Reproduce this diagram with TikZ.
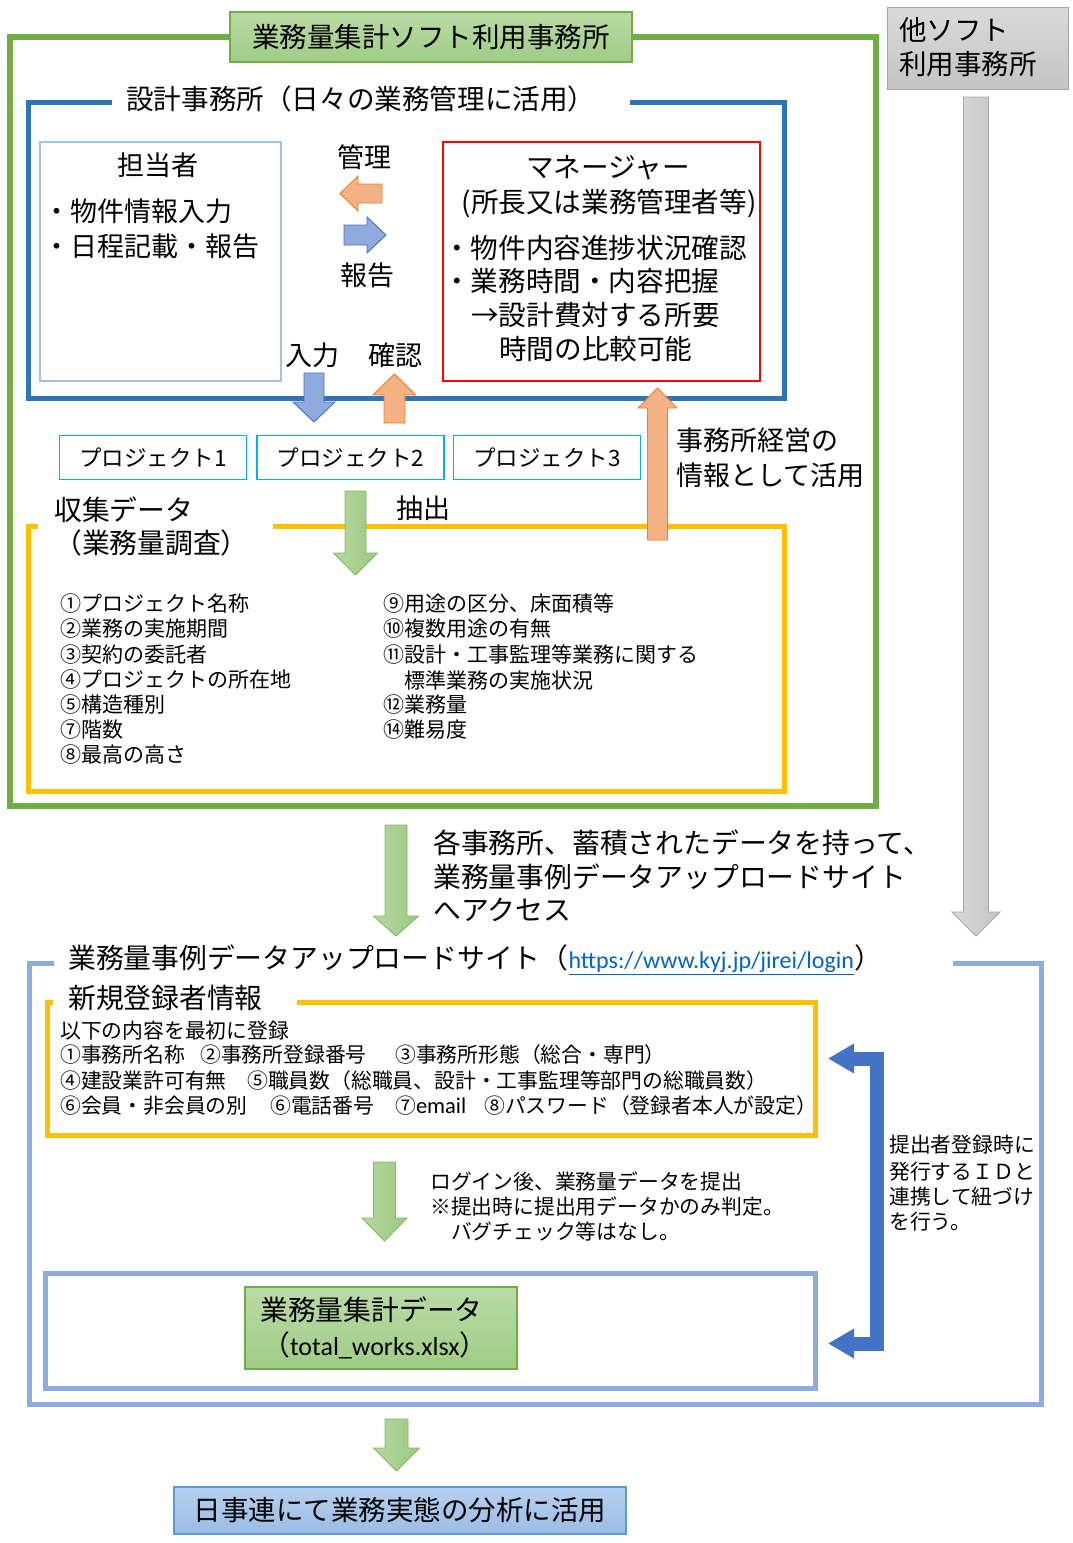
\documentclass[tikz,border=0pt]{standalone}
\usepackage{fontspec}
\setmainfont{Noto Sans CJK JP}
\newfontfamily\latfont{Carlito}
\usetikzlibrary{arrows.meta}
\definecolor{cGreen}{HTML}{70AD47}
\definecolor{cGreenTop}{HTML}{BADBA6}
\definecolor{cGreenFill}{HTML}{A0CC85}
\definecolor{cGArrL}{HTML}{B6D8A0}
\definecolor{cGArrR}{HTML}{9CC87F}
\definecolor{cBlue}{HTML}{2E75B6}
\definecolor{cLightBlue}{HTML}{9DC3E6}
\definecolor{cRed}{HTML}{FF0000}
\definecolor{cCyan}{HTML}{00B0F0}
\definecolor{cYellow}{HTML}{FFC000}
\definecolor{cSite}{HTML}{8FAADC}
\definecolor{cArrBlueFill}{HTML}{8FAADC}
\definecolor{cArrBlueLine}{HTML}{4472C4}
\definecolor{cOrFill}{HTML}{F4B183}
\definecolor{cOrLine}{HTML}{ED7D31}
\definecolor{cGrayTop}{HTML}{DADADA}
\definecolor{cGrayFill}{HTML}{C4C4C4}
\definecolor{cGrayLine}{HTML}{A6A6A6}
\definecolor{cUrl}{HTML}{0563C1}
\definecolor{cBotTop}{HTML}{B6D0EE}
\definecolor{cBotFill}{HTML}{9BBCE5}
\definecolor{cBotLine}{HTML}{5B9BD5}
\newcommand\VBlockArrow[7]{\path[#1] ({#2-#3},#5) -- ({#2+#3},#5) -- ({#2+#3},#6) -- ({#2+#4},#6) -- (#2,#7) -- ({#2-#4},#6) -- ({#2-#3},#6) -- cycle;}
\newcommand\HBlockArrow[7]{\path[#1] (#5,{#2-#3}) -- (#5,{#2+#3}) -- (#6,{#2+#3}) -- (#6,{#2+#4}) -- (#7,#2) -- (#6,{#2-#4}) -- (#6,{#2-#3}) -- cycle;}
\begin{document}
\begin{tikzpicture}[x=1pt,y=-1pt,
  lbl/.style={inner sep=0pt, text=black},
  lw/.style={lbl, anchor=west},
  fA/.style={font=\fontsize{27.5}{33}\selectfont},
  fB/.style={font=\fontsize{27.8}{33}\selectfont},
  fC/.style={font=\fontsize{27}{32}\selectfont},
  fM/.style={font=\fontsize{27.6}{32}\selectfont},
  fD/.style={font=\fontsize{21}{25}\selectfont},
  fE/.style={font=\fontsize{20.8}{25}\selectfont},
  fP/.style={font=\fontsize{22.5}{26}\selectfont},
  frame/.style={line join=miter},
  garrow/.style={left color=cGArrL, right color=cGArrR, draw=cGreen!85, line width=0.9pt},
  oarrow/.style={fill=cOrFill, draw=cOrLine, line width=0.9pt},
  barrow/.style={fill=cArrBlueFill, draw=cArrBlueLine, line width=0.9pt},
  grarrow/.style={left color=cGrayTop, right color=cGrayFill, draw=cGrayLine, line width=0.9pt},
  proj/.style={draw=cCyan, line width=1.3pt, minimum width=187pt, minimum height=44pt, inner sep=0pt, fP},
  greenbox/.style={draw=cGreen, line width=1.2pt, top color=cGreenTop, bottom color=cGreenFill, inner sep=0pt}
]
\useasboundingbox (0,0) rectangle (1073,1543);
\fill[white] (0,0) rectangle (1073,1543);

% ---------- outer green frame ----------
\draw[frame, cGreen, line width=6pt] (10,37) rectangle (876,806);
\node[greenbox, minimum width=402pt, minimum height=50pt, fA] (ttl) at (431,37) {業務量集計ソフト利用事務所};

% ---------- other software ----------
\node[draw=cGrayLine, line width=1pt, top color=cGrayTop, bottom color=cGrayFill, minimum width=181pt, minimum height=82pt, inner sep=0pt] (other) at (977.5,48) {};
\node[lw, fA] (other1) at (899,30) {他ソフト};
\node[lw, fA] (other2) at (899,64) {利用事務所};
\VBlockArrow{grarrow}{976}{12.5}{24}{97}{912}{936}

% ---------- design office frame ----------
\draw[frame, cBlue, line width=5pt] (630,102) -- (784,102) -- (784,398) -- (28,398) -- (28,102) -- (112,102);
\node[lw, fM] (dtitle) at (126,99) {設計事務所（日々の業務管理に活用）};

% staff box
\node[draw=cLightBlue, line width=2pt, minimum width=241pt, minimum height=239pt, inner sep=0pt] (tanto) at (160.5,261.5) {};
\node[lbl, fC] (tantoT) at (158,165) {担当者};
\node[lw, fC] (tb1) at (43,211) {・物件情報入力};
\node[lw, fC] (tb2) at (43,246) {・日程記載・報告};

% manage / report
\node[lbl, fC] (kanri) at (364,157) {管理};
\HBlockArrow{oarrow}{193.5}{9.5}{17.5}{382}{358}{340}
\HBlockArrow{barrow}{235}{10}{18}{344}{367}{386}
\node[lbl, fC] (houkoku) at (367,275) {報告};

% manager box
\node[draw=cRed, line width=2pt, minimum width=317pt, minimum height=239pt, inner sep=0pt] (mgr) at (601.5,261.5) {};
\node[lbl, fM] (m1) at (608,168) {マネージャー};
\node[lbl, fM] (m2) at (609,204) {(所長又は業務管理者等)};
\node[lw, fM] (m3) at (443,248) {・物件内容進捗状況確認};
\node[lw, fM] (m4) at (443,281) {・業務時間・内容把握};
\node[lw, fM] (m5) at (471,315) {→設計費対する所要};
\node[lw, fM] (m6) at (499,349) {時間の比較可能};

% input / confirm
\node[lbl, fC] (nyu) at (312,355) {入力};
\node[lbl, fC] (kaku) at (395,355) {確認};
\VBlockArrow{barrow}{314}{10}{21}{373}{402}{422}
\VBlockArrow{oarrow}{394.5}{10.5}{21.5}{423}{395}{374}

% projects
\node[proj] (p1) at (153,457.5) {プロジェクト1};
\node[proj] (p2) at (350.5,457.5) {プロジェクト2};
\node[proj] (p3) at (547,457.5) {プロジェクト3};

% ---------- collected data frame ----------
\draw[frame, cYellow, line width=5pt] (273,526) -- (784,526) -- (784,791) -- (28,791) -- (28,526) -- (38,526);
\node[lw, fB] (shu1) at (54,510) {収集データ};
\node[lw, fB] (shu2) at (54,543) {（業務量調査）};

% big orange arrow
\VBlockArrow{oarrow}{657.5}{10}{19.5}{540}{408}{388}
\node[lw, fC] (keiei1) at (676,440) {事務所経営の};
\node[lw, fC] (keiei2) at (676,475) {情報として活用};

% extract arrow
\VBlockArrow{garrow}{355.5}{10.5}{22}{491}{553}{575}
\node[lbl, fC] (chu) at (423,508) {抽出};

% data list
\node[lw, fD] (l1) at (60,604) {①プロジェクト名称};
\node[lw, fD] (l2) at (60,629) {②業務の実施期間};
\node[lw, fD] (l3) at (60,655) {③契約の委託者};
\node[lw, fD] (l4) at (60,680) {④プロジェクトの所在地};
\node[lw, fD] (l5) at (60,705) {⑤構造種別};
\node[lw, fD] (l6) at (60,730) {⑦階数};
\node[lw, fD] (l7) at (60,755) {⑧最高の高さ};
\node[lw, fD] (r1) at (383,604) {⑨用途の区分、床面積等};
\node[lw, fD] (r2) at (383,629) {⑩複数用途の有無};
\node[lw, fD] (r3) at (383,655) {⑪設計・工事監理等業務に関する};
\node[lw, fD] (r4) at (404,680) {標準業務の実施状況};
\node[lw, fD] (r5) at (383,705) {⑫業務量};
\node[lw, fD] (r6) at (383,730) {⑭難易度};

% ---------- access ----------
\VBlockArrow{garrow}{396}{11}{22.5}{825}{916}{936}
\node[lw, fB] (acc1) at (433,843) {各事務所、蓄積されたデータを持って、};
\node[lw, fB] (acc2) at (433,877) {業務量事例データアップロードサイト};
\node[lw, fB] (acc3) at (433,910) {へアクセス};

% ---------- upload site frame ----------
\draw[frame, cSite, line width=5pt] (953,963) -- (1041,963) -- (1041,1404) -- (29,1404) -- (29,963) -- (54,963);
\node[lw, fB] (siteT) at (68,960) {業務量事例データアップロードサイト（{\latfont\fontsize{24}{28}\selectfont\color{cUrl}\underline{https://www.kyj.jp/jirei/login}}）};

% new registrant frame
\draw[frame, cYellow, line width=5pt] (297,1002) -- (815,1002) -- (815,1135) -- (47,1135) -- (47,1002) -- (53,1002);
\node[lw, fB] (newT) at (68,998) {新規登録者情報};
\node[lw, fE] (n0) at (60,1031) {以下の内容を最初に登録};
\node[lw, fE] (n1) at (60,1055) {①事務所名称};
\node[lw, fE] (n2) at (200,1055) {②事務所登録番号};
\node[lw, fE] (n3) at (395,1055) {③事務所形態（総合・専門）};
\node[lw, fE] (n4) at (60,1081) {④建設業許可有無};
\node[lw, fE] (n5) at (247,1081) {⑤職員数（総職員、設計・工事監理等部門の総職員数）};
\node[lw, fE] (n6) at (60,1106) {⑥会員・非会員の別};
\node[lw, fE] (n7) at (270,1106) {⑥電話番号};
\node[lw, fE] (n8) at (395,1106) {⑦{\latfont\fontsize{22.5}{26}\selectfont email}};
\node[lw, fE] (n9) at (484,1106) {⑧パスワード（登録者本人が設定）};

% login arrow
\VBlockArrow{garrow}{384.5}{11}{22.5}{1162}{1218}{1241}
\node[lw, fE] (lg1) at (430,1181) {ログイン後、業務量データを提出};
\node[lw, fE] (lg2) at (430,1207) {※提出時に提出用データかのみ判定。};
\node[lw, fE] (lg3) at (430,1232) {　バグチェック等はなし。};

% inner box with data
\node[draw=cSite, line width=5pt, minimum width=770pt, minimum height=115pt, inner sep=0pt] (inner) at (430,1330.5) {};
\node[greenbox, minimum width=272pt, minimum height=82pt] (data) at (381,1328) {};
\node[lw, fB] (dt1) at (260,1310) {業務量集計データ};
\node[lw, fB] (dt2) at (262,1345) {（{\latfont\fontsize{26}{30}\selectfont total\_works.xlsx}）};

% bracket arrow
\coordinate (bkA) at (828,1058.5);
\coordinate (bkB) at (828,1343.5);
\draw[cArrBlueLine, line width=14pt, line join=miter,
  {Triangle[length=26pt,width=28pt]}-{Triangle[length=26pt,width=28pt]}]
  (bkA) -- (876.5,1058.5) -- (876.5,1343.5) -- (bkB);
\node[lw, fE] (id1) at (889,1145) {提出者登録時に};
\node[lw, fE] (id2) at (889,1172) {発行するＩＤと};
\node[lw, fE] (id3) at (889,1197) {連携して紐づけ};
\node[lw, fE] (id4) at (889,1222) {を行う。};

% final
\VBlockArrow{garrow}{396.5}{11.5}{23}{1419}{1448}{1471}
\node[draw=cBotLine, line width=1.2pt, top color=cBotTop, bottom color=cBotFill, minimum width=452pt, minimum height=47pt, inner sep=0pt, fA] (final) at (400,1510.5) {日事連にて業務実態の分析に活用};
\end{tikzpicture}
\end{document}
